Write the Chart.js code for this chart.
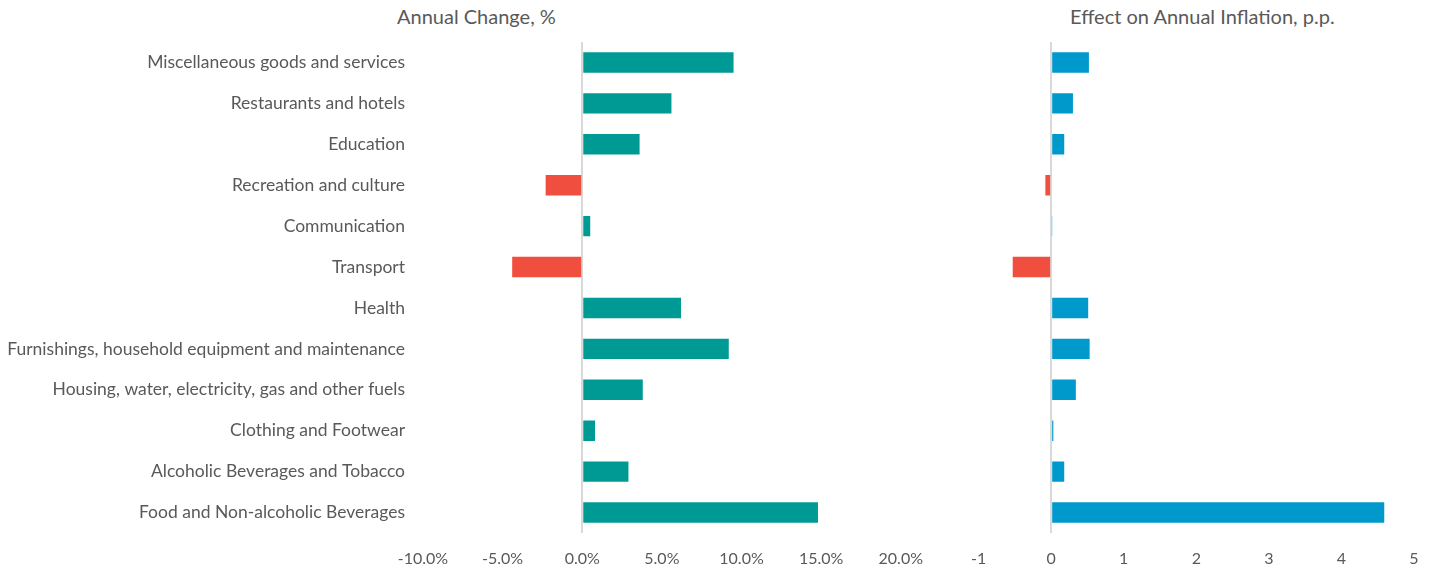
<!DOCTYPE html>
<html>
<head>
<meta charset="utf-8">
<script src="https://cdn.jsdelivr.net/npm/chart.js@4/dist/chart.umd.min.js"></script>
<style>
    body { margin: 0; background: #fff; }
    #wrap { position: relative; width: 1435px; height: 575px; font-family: Lato, sans-serif; color: #595959; }
    .title { position: absolute; top: 4px; font-size: 20px; white-space: nowrap; }
    #left { position: absolute; left: 0; top: 0; }
    #right { position: absolute; left: 955px; top: 0; }
</style>
</head>
<body>
<div id="wrap">
    <div class="title" style="left: 397px;">Annual Change, %</div>
    <div class="title" style="left: 1070px;">Effect on Annual Inflation, p.p.</div>
    <canvas id="left" width="939" height="575"></canvas>
    <canvas id="right" width="480" height="575"></canvas>
</div>
<script>
// categories, top to bottom
const categories = [
    'Miscellaneous goods and services',
    'Restaurants and hotels',
    'Education',
    'Recreation and culture',
    'Communication',
    'Transport',
    'Health',
    'Furnishings, household equipment and maintenance',
    'Housing, water, electricity, gas and other fuels',
    'Clothing and Footwear',
    'Alcoholic Beverages and Tobacco',
    'Food and Non-alcoholic Beverages'
];

// annual change, %
const annualChange = [9.5, 5.6, 3.6, -2.3, 0.5, -4.4, 6.2, 9.2, 3.8, 0.8, 2.9, 14.8];

// effect on annual inflation, p.p.
const inflationEffect = [0.52, 0.30, 0.18, -0.08, 0.01, -0.53, 0.51, 0.53, 0.34, 0.03, 0.18, 4.59];

const TEAL = '#009a95';
const BLUE = '#0099cb';
const RED = '#f04f3f';
const TEXT = '#595959';
const TICK_FONT = { family: 'Lato, sans-serif', size: 16 };
const LABEL_FONT = { family: 'Lato, sans-serif', size: 17.5 };

function zeroGrid(ctx) {
    return ctx.tick && ctx.tick.value === 0 ? '#d9d9d9' : 'rgba(0,0,0,0)';
}

function makeChart(id, values, posColor, xOpts, yOpts, padding) {
    return new Chart(document.getElementById(id), {
        type: 'bar',
        data: {
            labels: categories,
            datasets: [{
                data: values,
                backgroundColor: values.map(v => v < 0 ? RED : posColor),
                categoryPercentage: 1,
                barPercentage: 0.5
            }]
        },
        options: {
            indexAxis: 'y',
            responsive: false,
            animation: false,
            layout: { padding: padding },
            plugins: { legend: { display: false }, tooltip: { enabled: false } },
            scales: {
                x: Object.assign({
                    grid: { color: zeroGrid, lineWidth: 2, drawTicks: false },
                    border: { display: false },
                    afterFit: axis => { axis.height = 42; }
                }, xOpts),
                y: yOpts
            }
        }
    });
}

makeChart('left', annualChange, TEAL, {
    min: -10, max: 20,
    ticks: { color: TEXT, font: TICK_FONT, padding: 16, stepSize: 5, callback: v => v.toFixed(1) + '%' }
}, {
    grid: { display: false },
    border: { display: false },
    ticks: { color: TEXT, font: LABEL_FONT, padding: 10, autoSkip: false },
    afterFit: axis => { axis.width = 423; }
}, { top: 42, right: 30, left: 0, bottom: 0 });

makeChart('right', inflationEffect, BLUE, {
    min: -1, max: 5,
    ticks: { color: TEXT, font: TICK_FONT, padding: 16, stepSize: 1 }
}, {
    display: false
}, { top: 42, right: 21, left: 23, bottom: 0 });
</script>
</body>
</html>
